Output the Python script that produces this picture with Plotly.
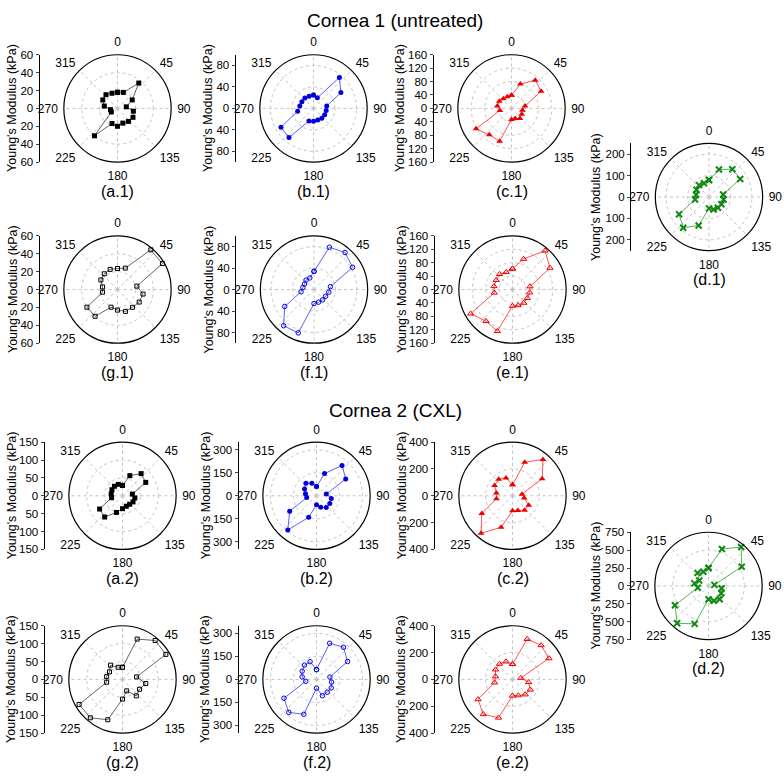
import plotly.graph_objects as go

W, H = 784, 776
R = 54.5  # circle radius in px

# --------------------------
# DATA (kPa at each measuring angle)
# --------------------------
angles = [0, 20, 40, 60, 80, 100, 120, 140, 160, 180, 200, 220, 240, 260, 280, 300, 320, 340]

a1 = [18, 19, 37, 19, 10, 18, 20, 19, 17.5, 20, 18, 40, 8, 8, 15, 19, 20, 18]
b1 = [25, 21, 75, 59, 25, 24, 24, 24, 23, 24, 25, 71, 70, 30, 26, 25, 25, 24]
c1 = [39, 77, 110, 102, 41, 33, 35, 39, 32, 33, 104, 103, 122, 35, 43, 42, 38, 37]
d1 = [79, 136, 169, 168, 67, 69, 67, 65, 62, 53, 141, 187, 161, 66, 61, 67, 72, 68]
g1 = [23.5, 25.5, 58, 58, 22, 29, 28, 26, 26, 23, 21, 39, 39.5, 17, 17, 21.5, 23, 24]
f1 = [34, 84, 90, 83, 31, 28, 25, 25, 25, 26, 86, 88, 63, 24.5, 21, 20.5, 23, 23]
e1 = [62, 97, 151, 129, 53, 52, 51, 52, 50, 49, 132, 123, 144, 55, 56, 56, 60, 55]

a2 = [29, 60, 81, 75, 28, 35, 34, 31, 31, 36, 49.5, 77.5, 74, 31, 32, 34, 35, 34]
b2 = [60, 154, 259, 220, 65, 98, 100, 99, 80, 58, 149, 291, 202, 65, 73, 90, 107, 88]
c2 = [82, 266, 354, 255, 72, 89, 140, 140, 116, 112, 249, 365, 264, 121, 122, 154, 160, 142]
d2 = [251, 549, 710, 536, 83, 187, 206, 243, 222, 187, 565, 682, 541, 153, 199, 150, 237, 210]
g2 = [34, 120, 142, 140, 40, 66, 55, 60, 34, 55, 120, 140, 140, 45, 45, 42, 52, 36]
f2 = [64, 251, 274, 234, 89, 100, 111, 109, 113, 57, 242, 281, 245, 71, 95, 108, 122, 123]
e2 = [114, 320, 332, 314, 63, 122, 153, 147, 127, 122, 304, 339, 297, 136, 129, 146, 151, 141]

# tick marks of the side scales
scale_a1 = [20, 40, 60]
scale_b1 = [40, 80]
scale_c1 = [40, 80, 120, 160]
scale_d1 = [100, 200]
scale_a2 = [50, 100, 150]
scale_b2 = [150, 300]
scale_c2 = [200, 400]
scale_d2 = [250, 500, 750]

black = dict(mk="#000000", ln="#555555")
blue = dict(mk="#0000dd", ln="#4c4cff")
red = dict(mk="#ee0000", ln="#ff4040")
green = dict(mk="#118811", ln="#44aa44")

# name, values, rmax, ticks, center x, center y, colours, marker symbol, size, title offset
panels = [
    ("(a.1)", a1, 60, scale_a1, 117.5, 104, black, "square", 5, 27),
    ("(b.1)", b1, 100, scale_b1, 313.5, 104, blue, "circle", 5, 27),
    ("(c.1)", c1, 160, scale_c1, 511.5, 104, red, "triangle-up", 6, 33),
    ("(g.1)", g1, 60, scale_a1, 117.5, 288, black, "square-open", 4, 27),
    ("(f.1)", f1, 100, scale_b1, 314, 288, blue, "circle-open", 4.5, 27),
    ("(e.1)", e1, 160, scale_c1, 512.5, 288, red, "triangle-up-open", 5.5, 33),
    ("(d.1)", d1, 250, scale_d1, 709, 194, green, "x-thin-open", 6, 35),
    ("(a.2)", a2, 150, scale_a2, 122.5, 497.5, black, "square", 5, 33),
    ("(b.2)", b2, 350, scale_b2, 316.5, 497.5, blue, "circle", 5, 33),
    ("(c.2)", c2, 400, scale_c2, 512.5, 497.5, red, "triangle-up", 6, 33),
    ("(g.2)", g2, 150, scale_a2, 122.5, 684, black, "square-open", 4, 33),
    ("(f.2)", f2, 350, scale_b2, 316.5, 684, blue, "circle-open", 4.5, 33),
    ("(e.2)", e2, 400, scale_c2, 512.5, 684, red, "triangle-up-open", 5.5, 33),
    ("(d.2)", d2, 750, scale_d2, 708.5, 589, green, "x-thin-open", 6, 35),
]

FONT = "Liberation Sans, Arial, sans-serif"
GRID = "#c4c4c4"

fig = go.Figure()
layout = dict(
    width=W, height=H, margin=dict(l=0, r=0, t=0, b=0),
    paper_bgcolor="white", plot_bgcolor="white", showlegend=False,
    font=dict(family=FONT, size=12, color="black"),
)
annotations = []

for i, (name, vals, rmax, ticks, cx, cy, col, sym, msize, toff) in enumerate(panels, start=1):
    pk = "polar" if i == 1 else f"polar{i}"
    rr = vals + vals[:1]
    tt = angles + angles[:1]
    if sym.startswith("x"):
        mline = dict(width=2, color=col["mk"])
    elif sym.endswith("open"):
        mline = dict(width=1, color=col["mk"])
    else:
        mline = dict(width=0)
    fig.add_trace(go.Scatterpolar(
        r=rr, theta=tt, mode="lines+markers", subplot=pk,
        line=dict(color=col["ln"], width=0.9),
        marker=dict(symbol=sym, size=msize, color=col["mk"], line=mline),
    ))
    grid = [t for t in ticks if t < rmax]
    layout[pk] = dict(
        domain=dict(x=[(cx - R) / W, (cx + R) / W], y=[1 - (cy + R) / H, 1 - (cy - R) / H]),
        bgcolor="white",
        radialaxis=dict(range=[0, rmax], tickvals=grid, showticklabels=False, ticks="",
                        showline=False, gridcolor=GRID, griddash="dot", gridwidth=1),
        angularaxis=dict(rotation=90, direction="clockwise", tickvals=list(range(0, 360, 45)),
                         ticks="outside", ticklen=3, tickcolor="rgba(0,0,0,0)",
                         showline=True, linecolor="black", linewidth=1.2,
                         gridcolor=GRID, griddash="dot", gridwidth=1,
                         tickfont=dict(size=12, family=FONT)),
    )

    # side scale: Young's modulus measured from the centre, both directions
    axis_px = cx - 78
    ax_x = axis_px / W
    fig.add_trace(go.Scatter(x=[None], y=[None], xaxis=f"x{i}", yaxis=f"y{i}",
                             hoverinfo="skip", showlegend=False))
    tv = [-t for t in ticks[::-1]] + [0] + ticks
    layout["xaxis" if i == 1 else f"xaxis{i}"] = dict(
        domain=[ax_x, ax_x + 0.005], visible=False, anchor=f"y{i}", range=[0, 1])
    layout["yaxis" if i == 1 else f"yaxis{i}"] = dict(
        domain=[1 - (cy + R) / H, 1 - (cy - R) / H], anchor=f"x{i}", range=[-rmax, rmax],
        tickvals=tv, ticktext=[str(abs(v)) for v in tv], ticks="outside", ticklen=3,
        showline=True, linecolor="black", linewidth=1, showgrid=False, zeroline=False,
        tickfont=dict(size=11.5),
    )
    annotations.append(dict(text="Young's Modulus (kPa)", textangle=-90,
                            x=(axis_px - toff) / W, y=1 - cy / H, xref="paper", yref="paper",
                            showarrow=False, font=dict(size=12.5), xanchor="center", yanchor="middle"))

    annotations.append(dict(text=name, x=cx / W, y=1 - (cy + 84) / H, xref="paper", yref="paper",
                            showarrow=False, font=dict(size=16), xanchor="center", yanchor="middle"))

annotations.append(dict(text="Cornea 1 (untreated)", x=395 / W, y=1 - 15 / H, xref="paper", yref="paper",
                        showarrow=False, font=dict(size=19), xanchor="center", yanchor="middle"))
annotations.append(dict(text="Cornea 2 (CXL)", x=396 / W, y=1 - 411 / H, xref="paper", yref="paper",
                        showarrow=False, font=dict(size=19), xanchor="center", yanchor="middle"))
layout["annotations"] = annotations

fig.update_layout(**layout)
# the page body has a default 8px margin; drop it so the figure sits at the window origin
fig.write_html("out.html", config={"displayModeBar": False},
               post_script="document.body.style.margin='0';")
